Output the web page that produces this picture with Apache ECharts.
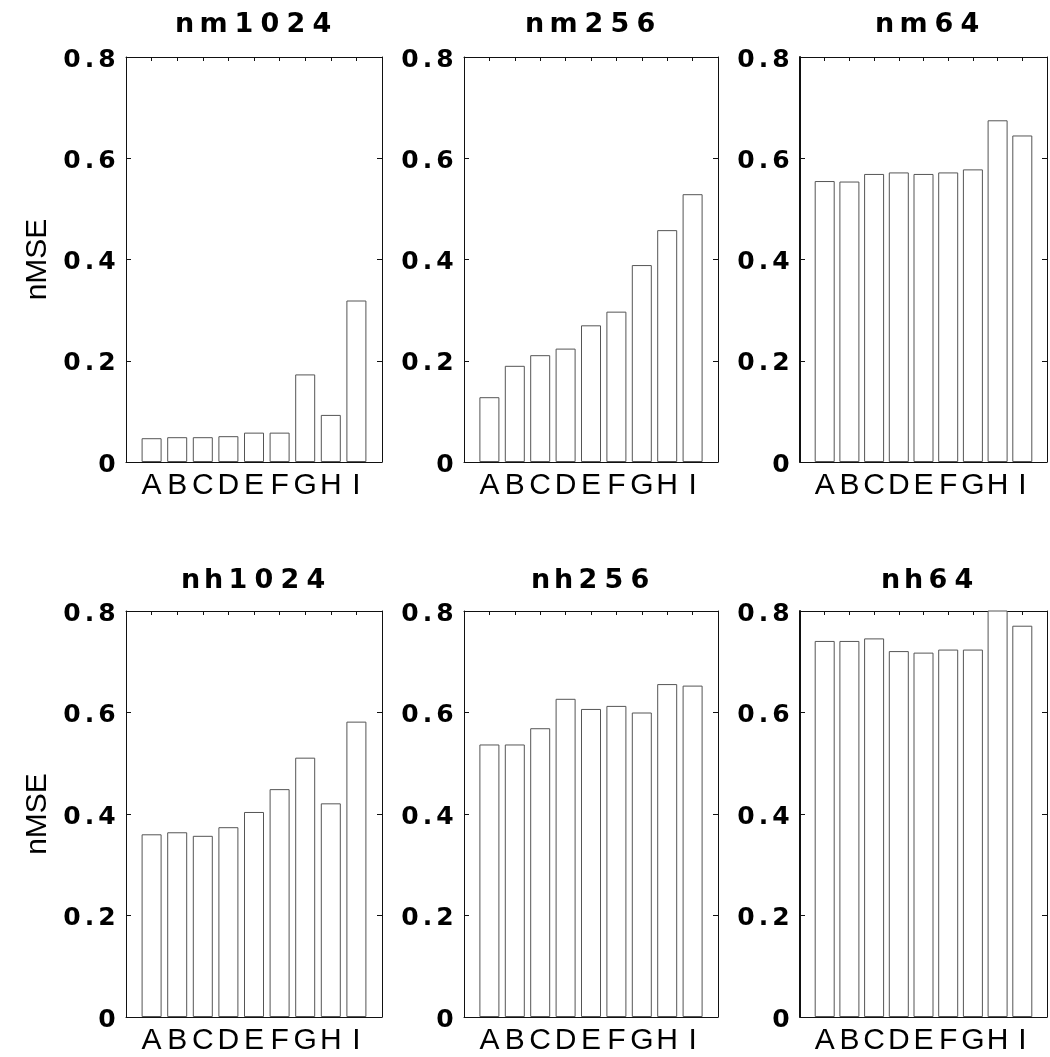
<!DOCTYPE html>
<html><head><meta charset="utf-8">
<script src="https://cdn.jsdelivr.net/npm/echarts@6/dist/echarts.min.js"></script>
<style>html,body{margin:0;padding:0;background:#fff}#c{width:1050px;height:1057px}</style>
</head><body><div id="c"></div>
<script>
// ---- data ----
const categories = ['A','B','C','D','E','F','G','H','I'];
const panelTitles = ['nm1024','nm256','nm64','nh1024','nh256','nh64'];
const yTickMin = 0, yTickMax = 0.8, yTickStep = 0.2;
const nm1024 = [0.047,0.049,0.049,0.051,0.058,0.058,0.173,0.093,0.319];
const nm256  = [0.128,0.190,0.211,0.224,0.270,0.297,0.389,0.458,0.529];
const nm64   = [0.555,0.554,0.569,0.572,0.569,0.572,0.578,0.675,0.645];
const nh1024 = [0.360,0.364,0.357,0.374,0.404,0.449,0.511,0.421,0.582];
const nh256  = [0.537,0.537,0.569,0.627,0.607,0.613,0.600,0.656,0.653];
const nh64   = [0.741,0.741,0.746,0.721,0.718,0.724,0.724,0.810,0.771];
const panelValues = [nm1024, nm256, nm64, nh1024, nh256, nh64];
const yName = 'nMSE';

// ---- layout ----
const colLeft = [126, 464, 800];
const colWidth = [256, 254, 256];
const rowTop = [57, 611];
const rowHeight = [405, 406];
const titleY = [25, 581];

function spacedDigits(s){
  return s.split('').map(ch => ch === '.' ? '{p|.}' : '{d|' + ch + '}').join('');
}
function spacedTitle(s){
  return s.split('').map(ch => {
    if (ch === 'm') return '{m|m}';
    if (/[a-z]/.test(ch)) return '{n|' + ch + '}';
    return '{d|' + ch + '}';
  }).join('');
}
const tickFont = {fontSize:25, fontFamily:'DejaVu Sans', fontWeight:'bold', color:'#000', align:'center', padding:[6,0,0,0]};
const titleFont = {fontSize:27, fontFamily:'DejaVu Sans', fontWeight:'bold', color:'#000', align:'center'};

const grids = [], xAxes = [], yAxes = [], series = [], titles = [];
const lineStyle = {color:'#111', width:1};
for (let i = 0; i < 6; i++) {
  const r = Math.floor(i / 3), c = i % 3;
  grids.push({left: colLeft[c], top: rowTop[r], width: colWidth[c], height: rowHeight[r], containLabel:false});
  xAxes.push({
    gridIndex:i, type:'value', min:0, max:categories.length + 1, interval:1, position:'bottom',
    axisLine:{show:true, onZero:false, lineStyle},
    axisTick:{show:false}, splitLine:{show:false},
    axisLabel:{show:true, margin:9, fontSize:30, fontFamily:'Liberation Sans', color:'#000',
      showMinLabel:true, showMaxLabel:true,
      formatter: v => categories[Math.round(v) - 1] || ''}
  });
  xAxes.push({
    gridIndex:i, type:'value', min:0, max:categories.length + 1, interval:1, position:'top',
    axisLine:{show:true, onZero:false, lineStyle},
    axisTick:{show:true, inside:true, length:4, lineStyle},
    axisLabel:{show:false}, splitLine:{show:false}
  });
  yAxes.push({
    gridIndex:i, type:'value', min:yTickMin, max:yTickMax, interval:yTickStep, position:'left',
    axisLine:{show:true, onZero:false, lineStyle:{color:'#111', width:c === 2 ? 2 : 1}},
    axisTick:{show:true, inside:true, length:5, lineStyle},
    splitLine:{show:false},
    axisLabel:{show:true, margin:7, formatter: v => spacedDigits(v === 0 ? '0' : v.toFixed(1)),
      rich:{d:Object.assign({width:24}, tickFont), p:Object.assign({width:11}, tickFont)}},
    name: c === 0 ? yName : '', nameLocation:'middle', nameRotate:90, nameGap:73,
    nameTextStyle:{fontSize:30, fontFamily:'Liberation Sans', color:'#000'}
  });
  yAxes.push({
    gridIndex:i, type:'value', min:yTickMin, max:yTickMax, interval:yTickStep, position:'right',
    axisLine:{show:true, onZero:false, lineStyle},
    axisTick:{show:true, inside:true, length:5, lineStyle},
    axisLabel:{show:false}, splitLine:{show:false}
  });
  series.push({
    type:'bar', xAxisIndex:2*i, yAxisIndex:2*i, barWidth:20, clip:true, silent:true,
    itemStyle:{color:'#fff', borderColor:'#555', borderWidth:1},
    data: panelValues[i].map((v, k) => [k + 1, v])
  });
  titles.push({
    text: spacedTitle(panelTitles[i]), left: colLeft[c] + colWidth[c] / 2, top: titleY[r],
    textAlign:'center', textVerticalAlign:'middle', padding:0,
    textStyle:{rich:{d:Object.assign({width:26}, titleFont), n:Object.assign({width:23}, titleFont), m:Object.assign({width:35}, titleFont)}}
  });
}

const chart = echarts.init(document.getElementById('c'), null, {renderer:'canvas'});
chart.setOption({animation:false, backgroundColor:'#fff', title:titles, grid:grids, xAxis:xAxes, yAxis:yAxes, series});
</script></body></html>
